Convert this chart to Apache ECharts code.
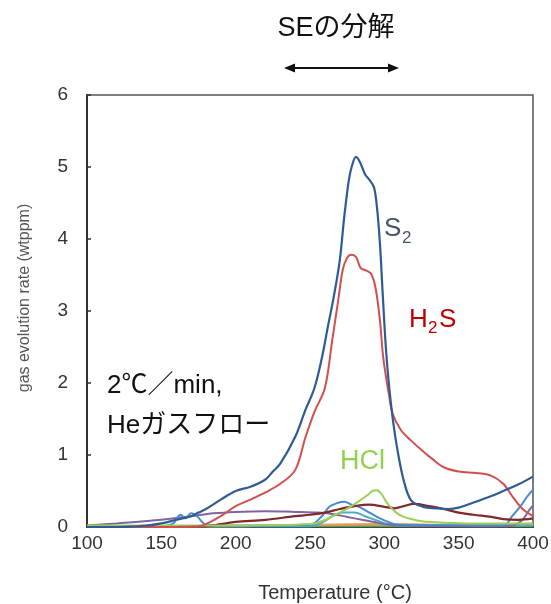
<!DOCTYPE html>
<html>
<head>
<meta charset="utf-8">
<script src="https://cdn.jsdelivr.net/npm/echarts@6/dist/echarts.min.js"></script>
<style>
html,body{margin:0;padding:0;background:#fff;}
#chart{width:551px;height:604px;}
</style>
</head>
<body>
<div id="chart"></div>
<script>
// ---- data (temperature in °C, gas evolution rate in wtppm) ----
const xTicks = [100, 150, 200, 250, 300, 350, 400];
const yTicks = [0, 1, 2, 3, 4, 5, 6];

const tempS2 = [100,120,140,150,160,170,175,180,190,200,210,220,225,230,240,247,253,258,262,266,270,273,276,278,281,284,287,290,293,295,297,299,301,303,306,309,313,318,326,335,343,350,360,372,380,390,400];
const valS2  = [0.0,0.0,0.02,0.05,0.1,0.15,0.2,0.25,0.38,0.5,0.56,0.66,0.77,0.88,1.25,1.63,1.93,2.35,2.78,3.2,3.7,4.3,4.8,5.0,5.14,5.05,4.9,4.82,4.72,4.45,3.95,3.2,2.5,2.0,1.45,1.05,0.65,0.37,0.28,0.26,0.25,0.27,0.34,0.43,0.5,0.59,0.7];

const tempH2S = [100,150,175,180,190,200,210,220,230,240,247,253,260,265,269,272,275,278,281,284,288,291,294,297,299,301,303,305.5,311,318,325,332,340,350,362,372,380,387,393,400];
const valH2S  = [0.0,0.0,0.01,0.04,0.15,0.29,0.38,0.48,0.6,0.79,1.25,1.6,1.93,2.6,3.15,3.57,3.74,3.78,3.75,3.6,3.56,3.52,3.33,2.88,2.4,2.1,1.85,1.58,1.35,1.2,1.07,0.95,0.83,0.77,0.75,0.71,0.6,0.4,0.25,0.15];

const tempHCl = [100,200,250,259,265,270,277,283,288.5,292,295,298,301,304,308,312,318,325,340,360,400];
const valHCl  = [0.02,0.02,0.04,0.09,0.15,0.2,0.28,0.36,0.44,0.5,0.51,0.46,0.36,0.28,0.2,0.15,0.11,0.08,0.06,0.05,0.05];

const tempMaroon = [100,180,190,200,220,240,250,260,270,280,290,300,307,313,320,330,340,350,360,372,380,390,400];
const valMaroon  = [0.01,0.01,0.04,0.07,0.1,0.15,0.17,0.2,0.25,0.29,0.31,0.28,0.26,0.29,0.32,0.29,0.25,0.2,0.17,0.14,0.11,0.1,0.12];

const tempPurple = [100,120,150,170,185,200,220,240,255,265,275,285,293,300,310,380,388,393,397,400];
const valPurple  = [0.02,0.05,0.1,0.15,0.19,0.21,0.22,0.21,0.2,0.18,0.14,0.1,0.07,0.04,0.02,0.01,0.03,0.1,0.22,0.3];

const tempLBlue = [100,150,158,163,166,170,174,177,180,200,250,258,263,268,273,278,283,290,297,304,310,380,386,392,396,400];
const valLBlue  = [0.01,0.01,0.05,0.17,0.12,0.19,0.15,0.08,0.03,0.02,0.03,0.15,0.28,0.33,0.35,0.31,0.28,0.2,0.12,0.06,0.03,0.02,0.15,0.3,0.42,0.52];

const tempCyan = [100,250,258,265,272,280,287,295,302,310,400];
const valCyan  = [0.01,0.01,0.06,0.15,0.2,0.2,0.15,0.09,0.04,0.02,0.02];

const tempOrange = [100,200,250,300,350,400];
const valOrange  = [0.0,0.01,0.03,0.04,0.03,0.03];

const tempGreenBase = [100,250,400];
const valGreenBase  = [0.01,0.01,0.01];

function pairs(t, v){ return t.map((x,i)=>[x, v[i]]); }

const seriesDefs = [
  {name:'green base', t:tempGreenBase, v:valGreenBase, color:'#5b9a58', w:2},
  {name:'orange', t:tempOrange, v:valOrange, color:'#f79646', w:2},
  {name:'cyan', t:tempCyan, v:valCyan, color:'#4bacc6', w:2},
  {name:'purple', t:tempPurple, v:valPurple, color:'#8064a2', w:2},
  {name:'light blue', t:tempLBlue, v:valLBlue, color:'#4a88d0', w:2},
  {name:'maroon', t:tempMaroon, v:valMaroon, color:'#82282a', w:2.2},
  {name:'HCl', t:tempHCl, v:valHCl, color:'#9bcf5a', w:2},
  {name:'H2S', t:tempH2S, v:valH2S, color:'#d24f4d', w:2},
  {name:'S2', t:tempS2, v:valS2, color:'#2f5b94', w:2.2}
];

const chart = echarts.init(document.getElementById('chart'), null, {renderer:'canvas'});

const latin = '"Liberation Sans", Arial, sans-serif';
const jp = '"Liberation Sans", "Noto Sans CJK JP", sans-serif';

const option = {
  animation:false,
  backgroundColor:'#fff',
  grid:{left:87, right:18, top:95, bottom:77, show:true, borderColor:'#555', borderWidth:1.5, outerBoundsMode:'none'},
  xAxis:{
    type:'value', min:xTicks[0], max:xTicks[xTicks.length-1], interval:50,
    axisLine:{show:true, onZero:false, lineStyle:{color:'#333', width:2}},
    axisTick:{show:false},
    splitLine:{show:false},
    axisLabel:{color:'#333', fontSize:19, fontFamily:latin, margin:7}
  },
  yAxis:{
    type:'value', min:yTicks[0], max:yTicks[yTicks.length-1], interval:1,
    axisLine:{show:true, onZero:false, lineStyle:{color:'#333', width:2}},
    axisTick:{show:true, inside:true, length:4, lineStyle:{color:'#333', width:1.5}},
    splitLine:{show:false},
    axisLabel:{color:'#333', fontSize:19, fontFamily:latin, margin:19}
  },
  series: seriesDefs.map(s=>({
    type:'line', name:s.name, data:pairs(s.t, s.v), smooth:0.35, showSymbol:false, symbol:'none',
    lineStyle:{color:s.color, width:s.w}, itemStyle:{color:s.color}, z:2
  })),
  graphic:[
    {type:'text', x:25, y:298, rotation:Math.PI/2, style:{text:'gas evolution rate (wtppm)', fill:'#555', font:'16px '+latin, textAlign:'center', textVerticalAlign:'middle'}},
    {type:'text', x:335, y:593, style:{text:'Temperature (°C)', fill:'#333', font:'20px '+latin, textAlign:'center', textVerticalAlign:'middle'}},
    {type:'text', x:336, y:29, style:{text:'SEの分解', fill:'#111', font:'27px '+jp, textAlign:'center', textVerticalAlign:'middle'}},
    {type:'line', shape:{x1:292, y1:68, x2:391, y2:68}, style:{stroke:'#111', lineWidth:2}},
    {type:'polygon', shape:{points:[[284,68],[295,63.5],[295,72.5]]}, style:{fill:'#111'}},
    {type:'polygon', shape:{points:[[399,68],[388,63.5],[388,72.5]]}, style:{fill:'#111'}},
    {type:'text', x:107, y:386, style:{text:'2℃／min,', fill:'#111', font:'26px '+jp, textAlign:'left', textVerticalAlign:'middle'}},
    {type:'text', x:107, y:426, style:{text:'Heガスフロー', fill:'#111', font:'26px '+jp, textAlign:'left', textVerticalAlign:'middle'}},
    {type:'text', x:384, y:229, style:{text:'S', fill:'#44546a', font:'26px '+latin, textAlign:'left', textVerticalAlign:'middle'}},
    {type:'text', x:402, y:238, style:{text:'2', fill:'#44546a', font:'17px '+latin, textAlign:'left', textVerticalAlign:'middle'}},
    {type:'text', x:409, y:320, style:{text:'H', fill:'#c00000', font:'26px '+latin, textAlign:'left', textVerticalAlign:'middle'}},
    {type:'text', x:428, y:328, style:{text:'2', fill:'#c00000', font:'17px '+latin, textAlign:'left', textVerticalAlign:'middle'}},
    {type:'text', x:439, y:320, style:{text:'S', fill:'#c00000', font:'26px '+latin, textAlign:'left', textVerticalAlign:'middle'}},
    {type:'text', x:340, y:462, style:{text:'HCl', fill:'#92d050', font:'27px '+latin, textAlign:'left', textVerticalAlign:'middle'}}
  ]
};
chart.setOption(option);
</script>
</body>
</html>
